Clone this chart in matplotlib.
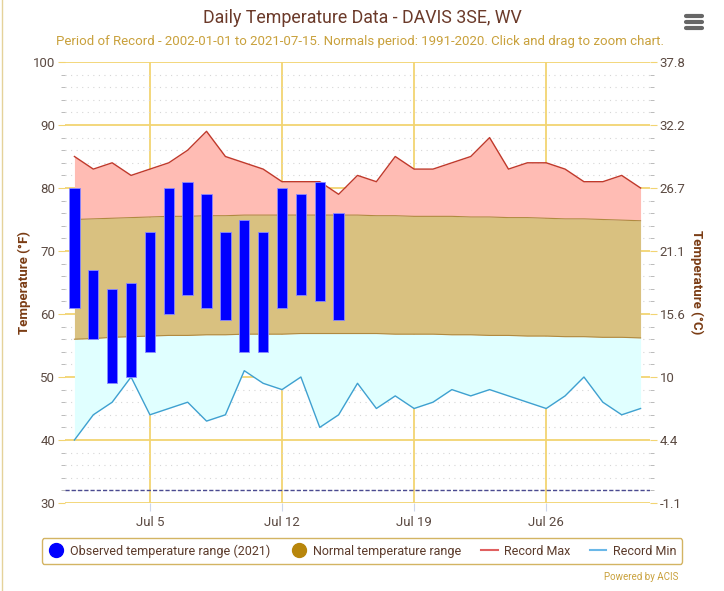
import numpy as np
import matplotlib
matplotlib.use("Agg")
import matplotlib.pyplot as plt
from matplotlib.lines import Line2D

plt.rcParams['font.family'] = ['Roboto', 'DejaVu Sans']

days = np.arange(1, 32)

rec_max = [85, 83, 84, 82, 83, 84, 86, 89, 85, 84, 83, 81, 81, 81, 79, 82,
           81, 85, 83, 83, 84, 85, 88, 83, 84, 84, 83, 81, 81, 82, 80]
rec_min = [40, 44, 46, 50, 44, 45, 46, 43, 44, 51, 49, 48, 50, 42, 44, 49,
           45, 47, 45, 46, 48, 47, 48, 47, 46, 45, 47, 50, 46, 44, 45]
norm_hi = [75.0, 75.1, 75.2, 75.3, 75.4, 75.5, 75.5, 75.6, 75.6, 75.7, 75.7,
           75.7, 75.7, 75.7, 75.7, 75.7, 75.6, 75.6, 75.5, 75.5, 75.5, 75.4,
           75.4, 75.3, 75.3, 75.2, 75.1, 75.1, 75.0, 74.9, 74.8]
norm_lo = [56.0, 56.1, 56.3, 56.4, 56.5, 56.6, 56.6, 56.7, 56.7, 56.8, 56.8,
           56.8, 56.9, 56.9, 56.9, 56.9, 56.9, 56.8, 56.8, 56.8, 56.7, 56.7,
           56.6, 56.6, 56.5, 56.5, 56.4, 56.4, 56.3, 56.3, 56.2]

obs_days = np.arange(1, 16)
obs_hi = [80, 67, 64, 65, 73, 80, 81, 79, 73, 75, 73, 80, 79, 81, 76]
obs_lo = [61, 56, 49, 50, 54, 60, 63, 61, 59, 54, 54, 61, 63, 62, 59]

xtick_days = [5, 12, 19, 26]
xtick_labels = ["Jul 5", "Jul 12", "Jul 19", "Jul 26"]
f_ticks = [30, 40, 50, 60, 70, 80, 90, 100]
c_labels = ["-1.1", "4.4", "10", "15.6", "21.1", "26.7", "32.2", "37.8"]
freezing = 32

W, H = 724, 591
fig = plt.figure(figsize=(W / 100, H / 100), dpi=100)
ax = fig.add_axes([65 / W, 1 - 503 / H, 585 / W, 441 / H])

txt = '#5b4a42'
gold = '#f2d472'
brown = '#7a3c14'

# fills
ax.fill_between(days, norm_hi, rec_max, color='#ffbcb4', lw=0, zorder=1)
ax.fill_between(days, norm_lo, norm_hi, color='#d9c180', lw=0, zorder=1)
ax.fill_between(days, rec_min, norm_lo, color='#e0ffff', lw=0, zorder=1)
ax.plot(days, norm_hi, color='#b08a40', lw=0.8, zorder=2)
ax.plot(days, norm_lo, color='#b08a40', lw=0.8, zorder=2)
ax.plot(days, rec_max, color='#c0392b', lw=1.0, zorder=3)
ax.plot(days, rec_min, color='#3fa0d0', lw=1.0, zorder=3)

ax.bar(obs_days, np.array(obs_hi) - np.array(obs_lo), bottom=obs_lo,
       width=0.55, color='#0000ff', edgecolor='#8a8aff', lw=0.6, zorder=4)

ax.axhline(freezing, color='#4a4a90', lw=1.0, ls=(0, (3, 1.5)), zorder=2)

ax.set_xlim(0.5, 31.5)
ax.set_ylim(30, 100)
ax.set_xticks(xtick_days)
ax.set_xticklabels(xtick_labels, color=txt, fontsize=9.5)
ax.set_yticks(f_ticks)
ax.set_yticklabels([str(t) for t in f_ticks], color=txt, fontsize=9.5)
ax.set_yticks(np.arange(30, 101, 2), minor=True)
ax.tick_params(axis='x', length=6, color='#ccd6eb', pad=3)
ax.tick_params(axis='y', which='major', length=5, color=gold, pad=2)
ax.tick_params(axis='y', which='minor', length=3, color='#b0b0b0')
ax.grid(True, axis='y', which='minor', color='#d6d6d6', ls=(0, (1, 4)), lw=0.8)
ax.grid(True, axis='y', which='major', color=gold, lw=1.3, ls='-')
ax.grid(True, axis='x', which='major', color=gold, lw=1.3)
ax.set_axisbelow(True)
for s in ax.spines.values():
    s.set_visible(False)

ax2 = ax.twinx()
ax2.set_ylim(30, 100)
ax2.set_yticks(f_ticks)
ax2.set_yticklabels(c_labels, color=txt, fontsize=9.5)
ax2.set_yticks(np.arange(30, 101, 2), minor=True)
ax2.tick_params(axis='y', which='major', length=5, color=gold, pad=2)
ax2.tick_params(axis='y', which='minor', length=3, color='#b0b0b0')
for s in ax2.spines.values():
    s.set_visible(False)

fig.text(24 / W, 1 - 282 / H, "Temperature (°F)", rotation=90, ha='center',
         va='center', fontsize=9.5, fontweight='bold', color=brown)
fig.text(697 / W, 1 - 282 / H, "Temperature (°C)", rotation=270, ha='center',
         va='center', fontsize=9.5, fontweight='bold', color=brown)

fig.text(362 / W, 1 - 18 / H, "Daily Temperature Data - DAVIS 3SE, WV",
         ha='center', va='center', fontsize=12.8, color='#6b3a2a')
fig.text(360 / W, 1 - 42 / H,
         "Period of Record - 2002-01-01 to 2021-07-15. Normals period: 1991-2020. "
         "Click and drag to zoom chart.",
         ha='center', va='center', fontsize=9.5, color='#c9a13c')
fig.text(678 / W, 1 - 577 / H, "Powered by ACIS", ha='right', va='center',
         fontsize=7, color='#c9a13c')

# menu icon
for yy in (16, 22, 28):
    fig.add_artist(Line2D([686 / W, 702 / W], [1 - yy / H, 1 - yy / H],
                          color='#666666', lw=3, solid_capstyle='round'))
fig.add_artist(Line2D([2 / W, 2 / W], [0, 1], color='#e5d29a', lw=1))

handles = [
    Line2D([], [], marker='o', ls='', color='#0000ff', markersize=10),
    Line2D([], [], marker='o', ls='', color='#b8860b', markersize=10),
    Line2D([], [], color='#e06060', lw=1.5),
    Line2D([], [], color='#6ab8e8', lw=1.5),
]
labels = ["Observed temperature range (2021)", "Normal temperature range",
          "Record Max", "Record Min"]
leg = fig.legend(handles, labels, loc='center', ncol=4,
                 bbox_to_anchor=(362 / W, 1 - 551 / H), fontsize=9,
                 frameon=True, fancybox=True, edgecolor='#c9a13c',
                 handlelength=1.3, handletextpad=0.5, columnspacing=1.6,
                 borderpad=0.5)
leg.get_frame().set_linewidth(1.0)
for t in leg.get_texts():
    t.set_color('#5b3a2a')

fig.savefig("out.png", dpi=100)
